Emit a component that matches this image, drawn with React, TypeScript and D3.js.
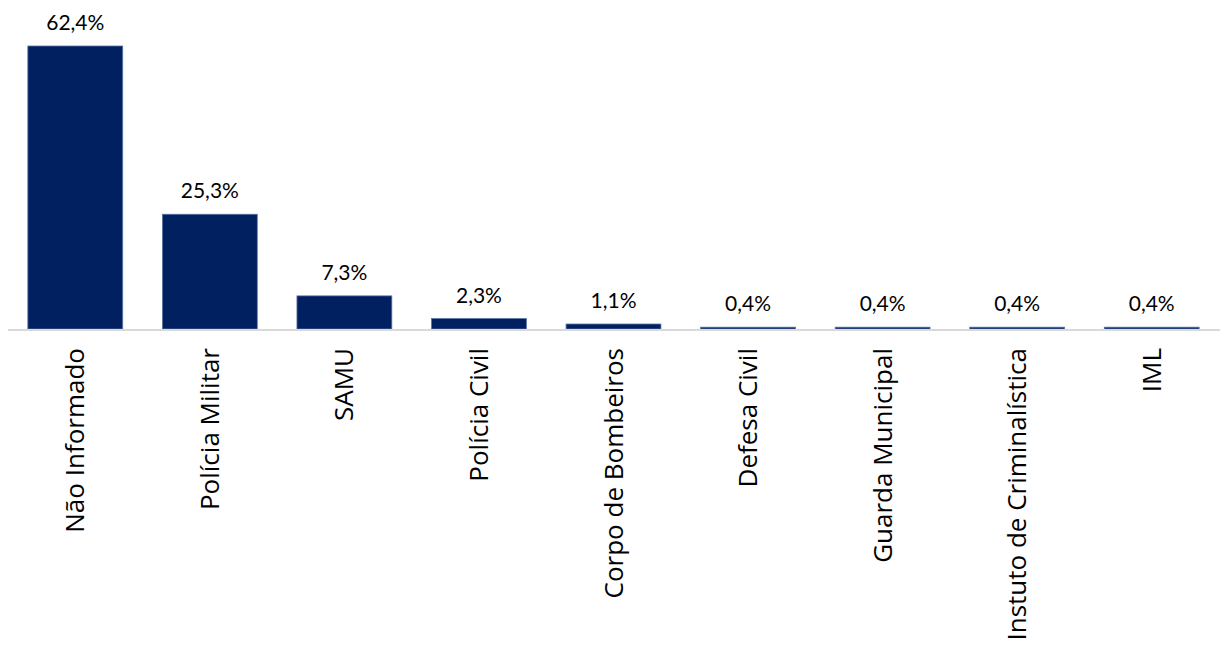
import React from "react";
import * as d3 from "d3";

const categories = [
  "Não Informado",
  "Polícia Militar",
  "SAMU",
  "Polícia Civil",
  "Corpo de Bombeiros",
  "Defesa Civil",
  "Guarda Municipal",
  "Instuto de Criminalística",
  "IML",
];
const values = [62.4, 25.3, 7.3, 2.3, 1.1, 0.4, 0.4, 0.4, 0.4];
const valueLabels = ["62,4%", "25,3%", "7,3%", "2,3%", "1,1%", "0,4%", "0,4%", "0,4%", "0,4%"];

const W = 1226;
const H = 651;
const baseY = 329;

export default function App() {
  const x = d3
    .scaleBand<string>()
    .domain(categories)
    .range([8, 1219])
    .paddingInner(0.295)
    .paddingOuter(0.1475);
  const y = d3.scaleLinear().domain([0, 62.4]).range([baseY, 46]);

  return (
    <svg
      width={W}
      height={H}
      style={{ position: "absolute", left: 0, top: 0, background: "#fff" }}
    >
      {categories.map((c, i) => {
        const x0 = x(c)!;
        const yTop = y(values[i]);
        return (
          <g key={c}>
            <rect
              x={x0}
              y={yTop}
              width={x.bandwidth()}
              height={baseY - yTop}
              fill="#002060"
              stroke="#5a73a3"
              strokeWidth={0.8}
            />
            <text
              x={x0 + x.bandwidth() / 2}
              y={yTop - 16}
              textAnchor="middle"
              fontFamily="Lato, 'Open Sans', sans-serif"
              fontSize={21}
              fill="#000"
            >
              {valueLabels[i]}
            </text>
            <text
              transform={`translate(${x0 + x.bandwidth() / 2},348) rotate(-90)`}
              textAnchor="end"
              dy="0.35em"
              fontFamily="'Open Sans', sans-serif"
              fontSize={26}
              fill="#000"
            >
              {c}
            </text>
          </g>
        );
      })}
      <line x1={8} x2={1220} y1={baseY + 1} y2={baseY + 1} stroke="#d9d9d9" strokeWidth={2} />
    </svg>
  );
}
